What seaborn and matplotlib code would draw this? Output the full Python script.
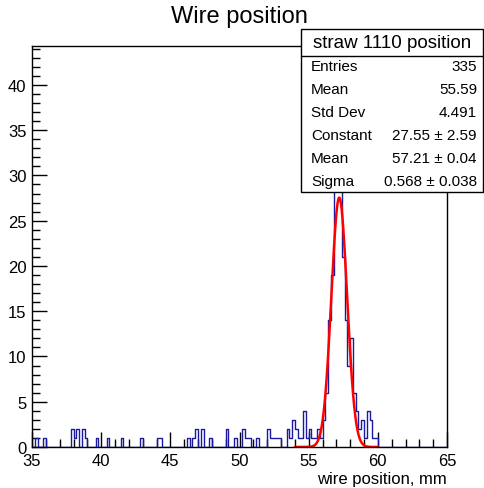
import numpy as np
import seaborn as sns
import matplotlib.pyplot as plt
from matplotlib.patches import Rectangle
from matplotlib.ticker import MultipleLocator

# histogram bins (left edge, mm) with non-zero content, bin width 0.2 mm
bin_left = [35.2, 35.8, 37.8, 38.0, 38.2, 38.6, 38.8, 39.6, 40.4, 41.4,
            42.8, 44.0, 44.2, 46.2, 46.6, 46.8, 47.2, 47.8, 49.0, 49.6,
            50.2, 50.4, 50.6, 51.2, 52.0, 52.2, 52.4, 52.6, 52.8, 53.4,
            53.6, 53.8, 54.0, 54.2, 54.4, 54.6, 54.8, 55.0, 55.2, 55.4,
            55.6, 55.8, 56.0, 56.2, 56.4, 56.6, 56.8, 57.0, 57.2, 57.4,
            57.6, 57.8, 58.0, 58.2, 58.4, 58.6, 58.8, 59.0, 59.2, 59.4,
            59.6, 59.8]
bin_count = [1, 1, 2, 1, 2, 2, 1, 1, 1, 1,
             1, 1, 1, 1, 1, 2, 2, 1, 2, 1,
             2, 1, 1, 1, 2, 1, 1, 1, 1, 2,
             1, 3, 2, 1, 1, 4, 1, 2, 1, 1,
             2, 1, 3, 6, 14, 19, 30, 42, 29, 21,
             14, 9, 12, 6, 4, 2, 3, 1, 4, 3,
             1, 1]
bin_width = 0.2

# gaussian fit result
fit_const, fit_mean, fit_sigma = 27.55, 57.21, 0.568
fit_range = (54.0, 60.0)

stat_rows = [("Entries", "335"), ("Mean", "55.59"), ("Std Dev", "4.491"),
             ("Constant", "27.55 \u00b1 2.59"), ("Mean", "57.21 \u00b1 0.04"),
             ("Sigma", "0.568 \u00b1 0.038")]

sns.set_style("ticks")
plt.rcParams['font.family'] = ['Liberation Sans', 'DejaVu Sans']
plt.rcParams['text.color'] = 'black'
plt.rcParams['xtick.color'] = 'black'
plt.rcParams['ytick.color'] = 'black'
plt.rcParams['axes.edgecolor'] = 'black'

W, H = 484, 489
fig = plt.figure(figsize=(W / 100, H / 100), dpi=100)
ax = fig.add_axes([32 / W, 1 - 448 / H, (447 - 32) / W, (448 - 47) / H])

centers = np.array(bin_left) + bin_width / 2
sns.histplot(x=centers, weights=bin_count, binwidth=bin_width, binrange=(35, 65),
             element="step", fill=False, color="#1a1aa0", linewidth=1.0, ax=ax)

xf = np.linspace(fit_range[0], fit_range[1], 400)
yf = fit_const * np.exp(-0.5 * ((xf - fit_mean) / fit_sigma) ** 2)
sns.lineplot(x=xf, y=yf, color="red", linewidth=1.8, ax=ax)

ax.set_xlim(35, 65)
ax.set_ylim(0, 44.3)
ax.set_xlabel("")
ax.set_ylabel("")
ax.xaxis.set_major_locator(MultipleLocator(5))
ax.xaxis.set_minor_locator(MultipleLocator(1))
ax.yaxis.set_major_locator(MultipleLocator(5))
ax.yaxis.set_minor_locator(MultipleLocator(1))
ax.tick_params(which="both", direction="in", top=False, right=False,
               labelsize=12, width=1, color="black", labelcolor="black")
ax.tick_params(which="major", length=11, pad=4)
ax.tick_params(which="minor", length=6)
for s in ax.spines.values():
    s.set_visible(True)
    s.set_linewidth(1)
    s.set_color("black")

fig.text(239 / W, 1 - 17 / H, "Wire position", ha="center", va="center",
         fontsize=17, color="black")
fig.text(447 / W, 1 - 480 / H, "wire position, mm", ha="right", va="center",
         fontsize=12, color="black")

# statistics box
def fx(px):
    return px / W

def fy(py):
    return 1 - py / H

box = Rectangle((fx(301), fy(193)), fx(483) - fx(301), fy(30) - fy(193),
                transform=fig.transFigure, facecolor="white", edgecolor="black",
                linewidth=1, zorder=5)
fig.add_artist(box)
fig.add_artist(plt.Line2D([fx(301), fx(483)], [fy(57), fy(57)],
                          transform=fig.transFigure, color="black", linewidth=1, zorder=6))
fig.text(fx(392), fy(44), "straw 1110 position", ha="center", va="center",
         fontsize=13.5, zorder=7, color="black")
for i, (lab, val) in enumerate(stat_rows):
    y = 67 + i * 23
    fig.text(fx(311), fy(y), lab, ha="left", va="center", fontsize=11, zorder=7, color="black")
    fig.text(fx(477), fy(y), val, ha="right", va="center", fontsize=11, zorder=7, color="black")

fig.savefig("out.png", dpi=100)
